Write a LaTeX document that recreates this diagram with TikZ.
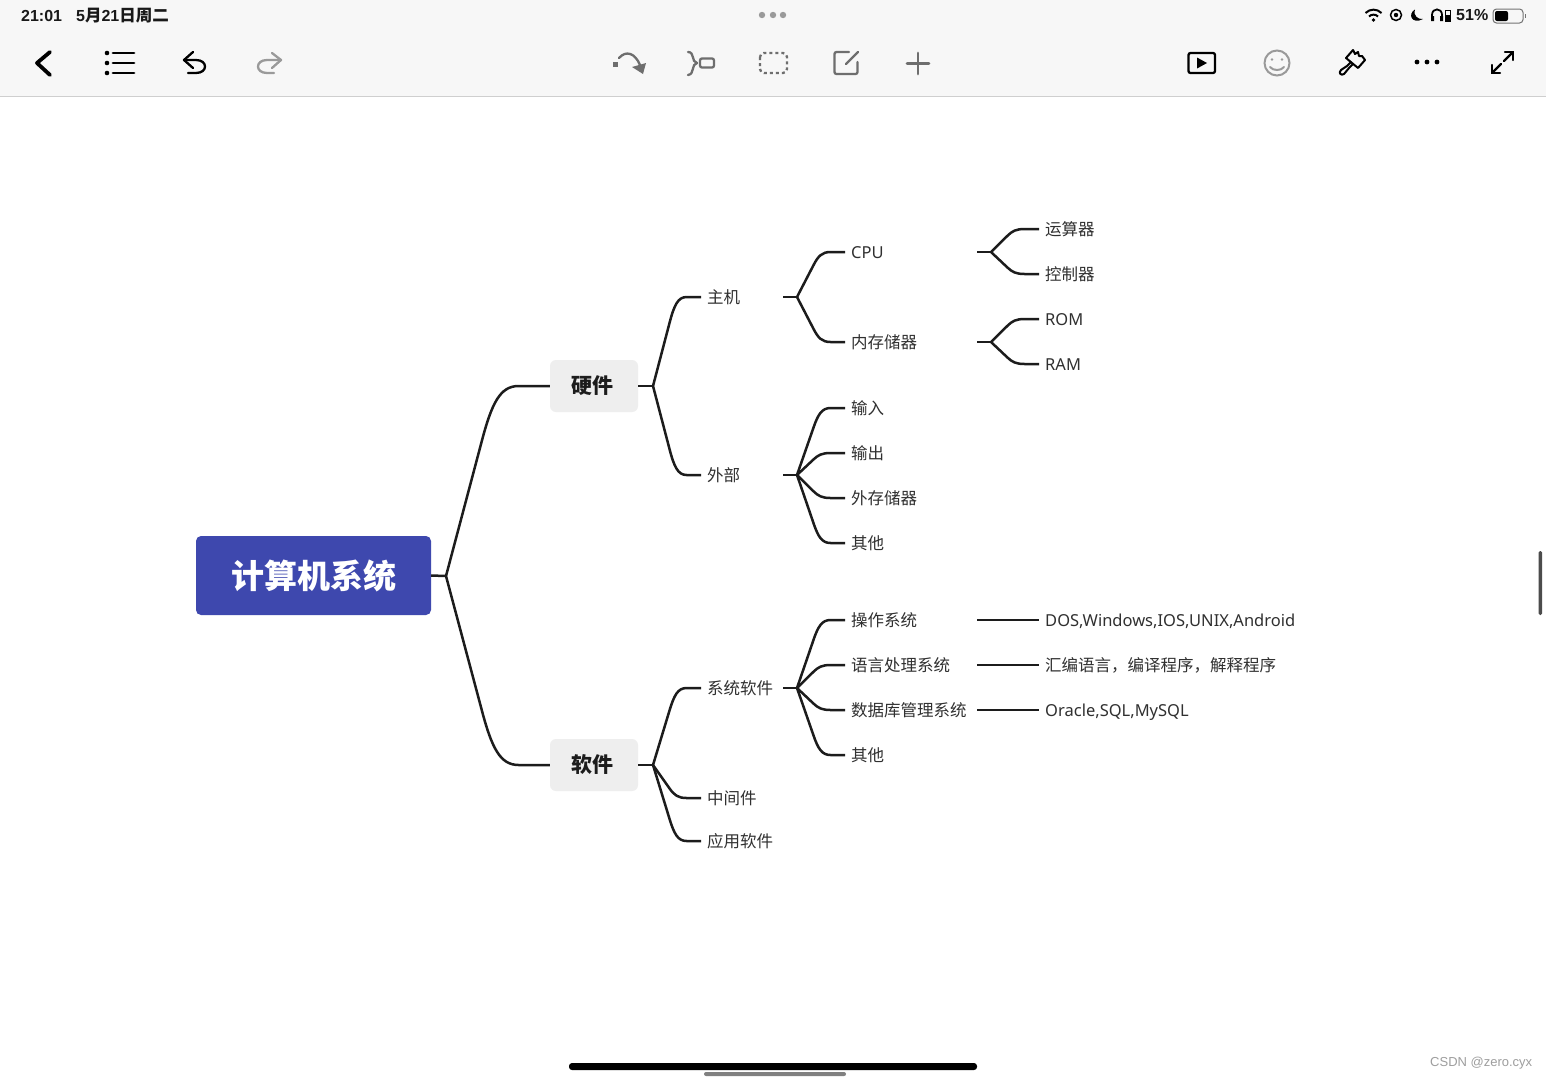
\documentclass[tikz,border=0pt]{standalone}
\usepackage{fontspec}
\setmainfont{Noto Sans}
\newfontfamily\cjk{Noto Sans CJK SC}
\newfontfamily\arial{Liberation Sans}
\usetikzlibrary{calc}
\definecolor{barbg}{HTML}{F7F7F7}
\definecolor{barline}{HTML}{CFCFCF}
\definecolor{rootblue}{HTML}{3E48AE}
\definecolor{boxgray}{HTML}{EEEEEE}
\definecolor{ink}{HTML}{1C1C1C}
\definecolor{txt}{HTML}{303030}
\definecolor{icongray}{HTML}{6E6E6E}
\definecolor{lightgray2}{HTML}{9A9A9A}
\tikzset{
  x=1pt,y=-1pt,
  link/.style={draw=ink,line width=2.5pt,line join=round},
  branch/.style={to path={let \p1=(\tikztostart),\p2=(\tikztotarget) in
     -- ++({0.34*(\x2-\x1)},{0.70*(\y2-\y1)})
     .. controls +({0.10*(\x2-\x1)},{0.21*(\y2-\y1)}) and +({-0.18*(\x2-\x1)},0pt) ..
     ++({0.36*(\x2-\x1)},{0.30*(\y2-\y1)})
     -- (\tikztotarget)}},
  lab/.style={anchor=west,inner xsep=6pt,inner ysep=0pt,align=left,text=txt,
     font=\fontsize{16.5}{18}\cjk,text height=17pt,text depth=4pt},
  colone/.style={lab,text width=70pt},
  coltwo/.style={lab,text width=120pt},
  colthree/.style={lab,text width=270pt},
  latin/.style={font=\fontsize{16.5}{18}\selectfont},
  mainbox/.style={fill=boxgray,rounded corners=6pt,anchor=center,minimum width=88pt,minimum height=52pt,
     inner sep=0pt,text=ink,font=\fontsize{21}{24}\cjk\bfseries},
  rootbox/.style={fill=rootblue,rounded corners=5pt,anchor=center,minimum width=235pt,minimum height=79pt,
     inner sep=0pt,text=white,font=\fontsize{33}{36}\cjk\bfseries},
  statustext/.style={anchor=west,inner sep=0pt,text=black!90,font=\fontsize{16}{18}\arial\bfseries},
  blackicon/.style={draw=black,line width=2.3pt,line cap=round,line join=round},
  grayicon/.style={draw=icongray,line width=2.3pt,line cap=round,line join=round},
  paleicon/.style={draw=lightgray2,line width=2.3pt,line cap=round,line join=round},
}
\begin{document}
\begin{tikzpicture}
\useasboundingbox (0,0) rectangle (1546,1080);
\fill[white] (0,0) rectangle (1546,1080);
% top bar
\fill[barbg] (0,0) rectangle (1546,96);
\draw[barline,line width=1pt] (0,96.5) -- (1546,96.5);
\node[statustext] (clock) at (21,15.5) {21:01};
\node[statustext] (date) at (76,15.5) {5{\fontsize{16.5}{18}\cjk\bfseries 月}21{\fontsize{16.5}{18}\cjk\bfseries 日周二}};
\node[statustext] (pct) at (1456,15.5) {51\%};
\foreach \x in {762,773,783} \fill[lightgray2] (\x,15) circle (3.2);
% left icons
\draw[blackicon,line width=3.8pt] (50,52) -- (37,63) -- (50,75);
\foreach \y in {53,63,73} {\fill[black] (107,\y) circle (2.3); \draw[blackicon,line width=2.8pt] (113,\y) -- (134,\y);}
\draw[blackicon] (193,52) -- (184,60) -- (193,68);
\draw[blackicon] (184,60) -- (196,60) .. controls (208,60) and (208,73) .. (196,73) -- (188,73);
\draw[paleicon] (272,53) -- (281,60) -- (272,68);
\draw[paleicon] (281,60) -- (267,60) .. controls (255,60) and (255,73) .. (267,73) -- (274,73);
% centre icons
\fill[icongray] (612.5,61.5) rectangle (617.5,66.5);
\draw[grayicon] (619,58) .. controls (626,50) and (635,53) .. (640,65);
\fill[icongray] (632,67) -- (646,63) -- (643,74) -- cycle;
\draw[grayicon] (688,52) .. controls (695,52) and (691,62) .. (697,63) .. controls (691,64) and (695,74) .. (688,75);
\draw[grayicon,rounded corners=2pt] (700,58.5) rectangle (714,67.5);
\draw[grayicon,dash pattern=on 3pt off 3pt,rounded corners=4pt,line cap=butt] (760,53) rectangle (787,73);
\draw[grayicon,rounded corners=2pt] (849,52) -- (834.5,52) -- (834.5,74) -- (857.5,74) -- (857.5,62);
\draw[grayicon] (846,64) -- (858,52);
\draw[grayicon,line width=2.9pt] (907,63.5) -- (929,63.5);
\draw[grayicon,line width=2.9pt] (918,53) -- (918,74);
% right icons
\draw[blackicon,rounded corners=2pt] (1188.5,53) rectangle (1215,73);
\fill[black] (1197,57.5) -- (1207,63) -- (1197,68.5) -- cycle;
\draw[draw=lightgray2,line width=2pt] (1277,63) circle (12.5);
\fill[lightgray2] (1272,59.5) circle (1.4) (1282,59.5) circle (1.4);
\draw[draw=lightgray2,line width=2pt,line cap=round] (1270,67) .. controls (1273,71) and (1281,71) .. (1284,67);
\draw[blackicon,line width=2pt] (1353,50) -- (1355,54) -- (1358,52) -- (1359,56) -- (1362,56) -- (1365,60) -- (1358,68) -- (1346,58) -- cycle;
\draw[blackicon,line width=2pt] (1351,62) -- (1347,66) -- (1341,70) .. controls (1338,73) and (1341,76) .. (1344,74) -- (1349,68) -- (1353,64);
\foreach \x in {1417,1427,1437} \fill[black] (\x,62) circle (2.4);
\draw[blackicon] (1504,61) -- (1513,52);
\draw[blackicon] (1505,52) -- (1513,52) -- (1513,60);
\draw[blackicon] (1492,73) -- (1501,64);
\draw[blackicon] (1492,65) -- (1492,73) -- (1500,73);
% status icons
\fill[black] (1373.5,20) circle (1.8);
\draw[black,line width=2pt] (1369,16.5) .. controls (1371.5,14) and (1375.5,14) .. (1378,16.5);
\draw[black,line width=2pt] (1365.5,13) .. controls (1370,8.5) and (1377,8.5) .. (1381.5,13);
\draw[black,line width=1.5pt] (1396,15) circle (5.5);
\fill[black] (1396,15) circle (2.2);
\fill[black] (1415,9.5) .. controls (1407,14) and (1412,25) .. (1423,19) .. controls (1418,19.5) and (1413,16) .. (1415,9.5);
\draw[black,line width=1.8pt] (1432,20) -- (1432,15) .. controls (1432,7.5) and (1442,7.5) .. (1442,15) -- (1442,20);
\fill[black] (1431,16) rectangle (1434,21) (1440,16) rectangle (1443,21);
\draw[black,line width=1pt] (1445,10.5) rectangle (1450,21);
\fill[black] (1445,15) rectangle (1450,21);
\draw[black!55,line width=1pt,rounded corners=3.5pt] (1493,9) rectangle (1523,23);
\fill[black,rounded corners=2pt] (1495,11) rectangle (1508,21);
\fill[black!55] (1525,14) rectangle (1526,18);
% scroll and home bars
\fill[black!70,rounded corners=1.5pt] (1538.5,551) rectangle (1542,615);
\fill[black,rounded corners=3pt] (569,1063) rectangle (977,1070);
\fill[black!50,rounded corners=2pt] (704,1072) rectangle (846,1076);
\node[anchor=west,inner sep=0pt,text=black!38,font=\fontsize{13}{15}\arial] (mark) at (1430,1063) {CSDN @zero.cyx};
% nodes
\node[rootbox] (root) at (313.5,575.5) {\raisebox{-1pt}{计算机系统}};
\node[mainbox] (hw) at (594,386) {\hspace{-4pt}硬件};
\node[mainbox] (sw) at (594,765) {\hspace{-4pt}软件};
\node[colone] (host) at (701,297) {主机};
\node[colone] (ext) at (701,475) {外部};
\node[colone] (sys) at (701,688) {系统软件};
\node[colone] (mid) at (701,798) {中间件};
\node[colone] (app) at (701,841) {应用软件};
\node[coltwo,latin] (cpu) at (845,252) {CPU};
\node[coltwo] (mem) at (845,342) {内存储器};
\node[coltwo] (in) at (845,408) {输入};
\node[coltwo] (outp) at (845,453) {输出};
\node[coltwo] (stor) at (845,498) {外存储器};
\node[coltwo] (oth) at (845,543) {其他};
\node[coltwo] (os) at (845,620) {操作系统};
\node[coltwo] (lang) at (845,665) {语言处理系统};
\node[coltwo] (db) at (845,710) {数据库管理系统};
\node[coltwo] (oth2) at (845,755) {其他};
\node[colthree] (alu) at (1039,229) {运算器};
\node[colthree] (ctl) at (1039,274) {控制器};
\node[colthree,latin] (rom) at (1039,319) {ROM};
\node[colthree,latin] (ram) at (1039,364) {RAM};
\node[colthree,latin] (oslist) at (1039,620) {DOS,Windows,IOS,UNIX,Android};
\node[colthree] (langlist) at (1039,665) {汇编语言，编译程序，解释程序};
\node[colthree,latin] (dblist) at (1039,710) {Oracle,SQL,MySQL};
% junctions
\coordinate (jroot) at (446,576);
\coordinate (jhw) at (653,386);
\coordinate (jsw) at (653,765);
\coordinate (jhost) at (797,297);
\coordinate (jext) at (797,475);
\coordinate (jsys) at (797,688);
\coordinate (jcpu) at (991,252);
\coordinate (jmem) at (991,342);
% connectors
\draw[link] (root.east) -- (jroot);
\draw[link] (jroot) to[branch] (hw.west);
\draw[link] (jroot) to[branch] (sw.west);
\draw[link] (hw.east) -- (jhw);
\draw[link] (jhw) to[branch] (host.west);
\draw[link] (jhw) to[branch] (ext.west);
\draw[link] (sw.east) -- (jsw);
\draw[link] (jsw) to[branch] (sys.west);
\draw[link] (jsw) to[branch] (mid.west);
\draw[link] (jsw) to[branch] (app.west);
\draw[link] (host.east) -- (jhost);
\draw[link] (jhost) to[branch] (cpu.west);
\draw[link] (jhost) to[branch] (mem.west);
\draw[link] (ext.east) -- (jext);
\draw[link] (jext) to[branch] (in.west);
\draw[link] (jext) to[branch] (outp.west);
\draw[link] (jext) to[branch] (stor.west);
\draw[link] (jext) to[branch] (oth.west);
\draw[link] (sys.east) -- (jsys);
\draw[link] (jsys) to[branch] (os.west);
\draw[link] (jsys) to[branch] (lang.west);
\draw[link] (jsys) to[branch] (db.west);
\draw[link] (jsys) to[branch] (oth2.west);
\draw[link] (cpu.east) -- (jcpu);
\draw[link] (jcpu) to[branch] (alu.west);
\draw[link] (jcpu) to[branch] (ctl.west);
\draw[link] (mem.east) -- (jmem);
\draw[link] (jmem) to[branch] (rom.west);
\draw[link] (jmem) to[branch] (ram.west);
\draw[link] (os.east) -- (oslist.west);
\draw[link] (lang.east) -- (langlist.west);
\draw[link] (db.east) -- (dblist.west);
\end{tikzpicture}
\end{document}
